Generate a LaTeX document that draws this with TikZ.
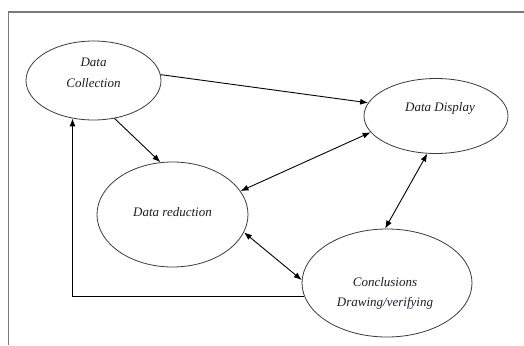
\documentclass[tikz,border=0pt]{standalone}
\usepackage{fontspec}
\setmainfont{Liberation Serif}
\usetikzlibrary{arrows.meta,shapes.geometric}
\definecolor{QAFrame}{HTML}{7A7A7A}
\definecolor{QALine}{HTML}{3A3A3A}
\definecolor{QAInk}{HTML}{1A1A2A}
\tikzset{
  flow/.style={-{Latex[length=8pt,width=6pt]},black,line width=0.9pt},
  flowboth/.style={flow,{Latex[length=8pt,width=6pt]}-{Latex[length=8pt,width=6pt]}},
  stage/.style={ellipse,draw=QALine,line width=0.8pt,inner sep=0pt},
  stagetext/.style={text=QAInk,align=center,font=\fontsize{13}{21}\selectfont\itshape},
  frame/.style={draw=QAFrame,line width=1.4pt},
}

\begin{document}
\begin{tikzpicture}[x=1pt,y=-1pt]
    \useasboundingbox (0,0) rectangle (524,345);
    \draw[frame] (8.5,345) |- (524,12);

    % the four stages
    \node[stage,minimum width=135pt,minimum height=79pt] (coll) at (93.5,80.5) {};
    \node[stage,minimum width=144pt,minimum height=75pt] (disp) at (436,116) {};
    \node[stage,minimum width=151pt,minimum height=105pt] (red) at (172.5,214.5) {};
    \node[stage,minimum width=170pt,minimum height=108pt] (conc) at (387,283) {};

    \node[stagetext] at ([yshift=7.5pt]coll.center) {Data\\Collection};
    \node[stagetext] at ([xshift=4pt,yshift=8pt]disp.center) {Data Display};
    \node[stagetext] at ([yshift=2pt]red.center) {Data reduction};
    \node[stagetext,font=\fontsize{13}{20}\selectfont\itshape] at ([xshift=-2pt,yshift=-10pt]conc.center)
      {Conclusions\\Drawing/verifying};

    % connectors
    \draw[flow] (coll.5) -- (disp.169);
    \draw[flow] (coll.299) -- (red.103);
    \draw[flowboth] (red.19) -- (disp.194);
    \draw[flowboth] (red.346) -- (conc.178);
    \draw[flowboth] (disp.257) -- (conc.92);
    \draw[flow] (conc.189) -| (coll.241);
  \end{tikzpicture}
\end{document}
